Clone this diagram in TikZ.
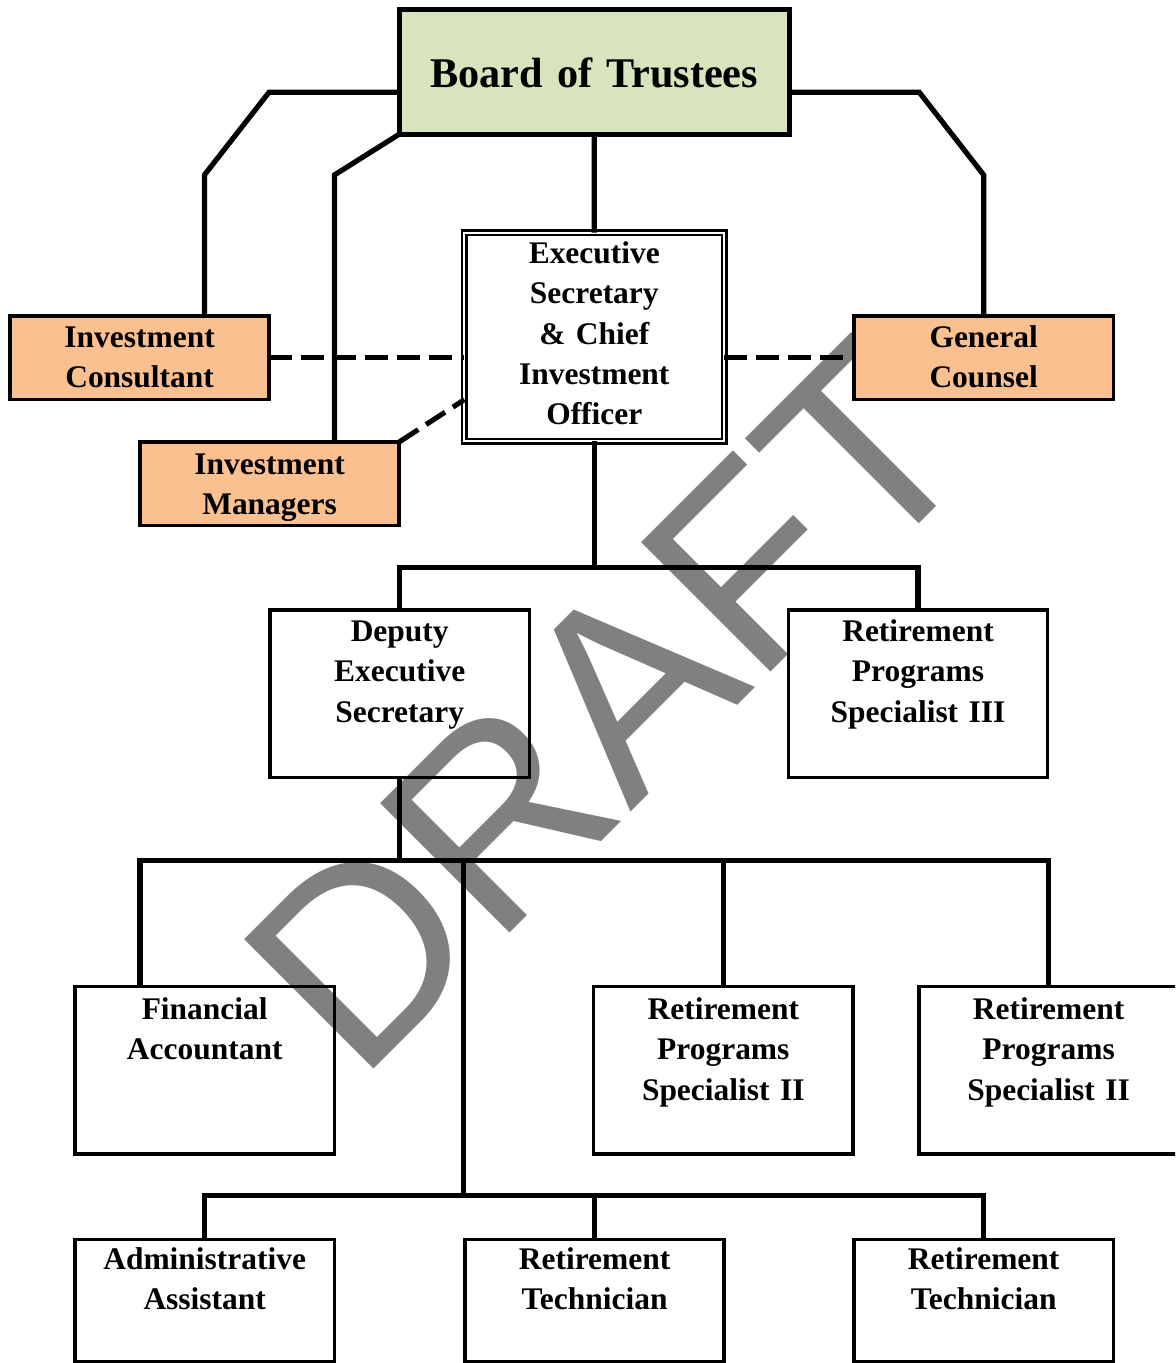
\documentclass[tikz,border=0pt]{standalone}
\usepackage{fontspec}
\setmainfont{Liberation Serif}
\newfontfamily\wmfont{Liberation Sans}
\usetikzlibrary{calc}
\definecolor{peach}{RGB}{250,192,144}
\definecolor{sage}{RGB}{215,228,189}
\definecolor{wmgray}{RGB}{128,128,128}
\begin{document}
\begin{tikzpicture}[x=0.75pt,y=-0.75pt,
  every node/.style={inner sep=0pt, outer sep=0pt},
  box/.style={draw=black, rectangle, line width=2.6pt, minimum width=194.4pt},
  tallbox/.style={box, minimum height=125.5pt},
  shortbox/.style={box, minimum height=91.7pt},
  peachbox/.style={box, fill=peach, minimum height=62.6pt},
  lbl/.style={font=\bfseries\fontsize{23.6}{30.2}\selectfont, align=center, text width=194pt, anchor=base},
  boardlbl/.style={font=\bfseries\fontsize{31.7}{38}\selectfont, align=center, text width=290pt, anchor=base},
  wm/.style={anchor=base west, rotate=45, text=wmgray, font=\wmfont\fontsize{199.5}{199.5}\selectfont},
  conn/.style={line width=3.9pt},
  dconn/.style={line width=3.8pt, dash pattern=on 17pt off 7pt},
]
\useasboundingbox (0,0) rectangle (1175,1363);
\clip (0,0) rectangle (1175,1363);

% watermark (behind everything)
\node[wm] (wmark) at (358.8,1084.5) {DRAFT};

% boxes
\node[box, fill=sage, line width=3.9pt, minimum width=292.5pt, minimum height=93.75pt] (board) at (594.2,71.7) {};
\node[box, double, line width=1.75pt, double distance=1.5pt, minimum width=194.8pt, minimum height=156.5pt] (exec) at (594.3,337) {};
\node[peachbox] (ic) at (139.6,357.8) {};
\node[peachbox] (gc) at (983.7,357.8) {};
\node[peachbox] (im) at (269.6,483.7) {};
\node[tallbox] (dep) at (399.7,693.7) {};
\node[tallbox] (rps3) at (918,693.7) {};
\node[tallbox] (fa) at (204.7,1070.4) {};
\node[tallbox] (rps2a) at (723.3,1070.4) {};
\node[tallbox] (rps2b) at (1048.6,1070.4) {};
\node[shortbox] (aa) at (204.7,1300.4) {};
\node[shortbox] (rt1) at (594.6,1300.4) {};
\node[shortbox] (rt2) at (983.7,1300.4) {};

% connectors
\coordinate (b1) at (269,92.3);
\coordinate (b2) at (204.4,175);
\coordinate (b3) at (334.4,175);
\coordinate (b4) at (919.3,92.3);
\coordinate (b5) at (983.7,175);
\draw[conn] ($(board.north west)!0.665!(board.south west)$) -- (b1) -- (b2) -- ($(ic.north west)!0.75!(ic.north east)$);
\draw[conn] (board.south west) -- (b3) -- ($(im.north west)!0.75!(im.north east)$);
\draw[conn] ($(board.north east)!0.665!(board.south east)$) -- (b4) -- (b5) -- (gc.north);
\draw[conn] (board.south) -- (exec.north);

\draw[dconn] (ic.east) -- (ic.east -| exec.west);
\draw[dconn] (gc.west -| exec.east) -- (gc.west);
\draw[dconn] (im.north east) -- ($(exec.north west)!0.8!(exec.south west)$);

\coordinate (j1) at (594.3,567.5);
\draw[conn] (exec.south) -- (j1);
\draw[conn] (dep.north) |- (j1) -| (rps3.north);

\coordinate (j2) at (399.7,860.8);
\coordinate (j3) at (463.8,860.8);
\coordinate (j4) at (463.8,1195.8);
\draw[conn] (dep.south) -- (j2);
\draw[conn] ($(fa.north west)!0.25!(fa.north east)$) |- (j2) -| (rps2b.north);
\draw[conn] (rps2a.north) -- (rps2a.north |- j2);
\draw[conn] (j3) -- (j4);
\draw[conn] (aa.north) |- (j4) -| (rt2.north);
\draw[conn] (rt1.north) -- (rt1.north |- j4);

% labels
\node[boardlbl] (tboard) at (board.center |- 0,87.5) {Board of Trustees};
\node[lbl] (texec) at (exec.center |- 0,263.5) {Executive\\Secretary\\\& Chief\\Investment\\Officer};
\node[lbl] (tic) at (ic.center |- 0,347.5) {Investment\\Consultant};
\node[lbl] (tgc) at (gc.center |- 0,347.5) {General\\Counsel};
\node[lbl] (tim) at (im.center |- 0,474) {Investment\\Managers};
\node[lbl] (tdep) at (dep.center |- 0,641.5) {Deputy\\Executive\\Secretary};
\node[lbl] (trps3) at (rps3.center |- 0,641.5) {Retirement\\Programs\\Specialist III};
\node[lbl] (tfa) at (fa.center |- 0,1019.5) {Financial\\Accountant};
\node[lbl] (trps2a) at (rps2a.center |- 0,1019.5) {Retirement\\Programs\\Specialist II};
\node[lbl] (trps2b) at (rps2b.center |- 0,1019.5) {Retirement\\Programs\\Specialist II};
\node[lbl] (taa) at (aa.center |- 0,1269.5) {Administrative\\Assistant};
\node[lbl] (trt1) at (rt1.center |- 0,1269.5) {Retirement\\Technician};
\node[lbl] (trt2) at (rt2.center |- 0,1269.5) {Retirement\\Technician};
\end{tikzpicture}
\end{document}
